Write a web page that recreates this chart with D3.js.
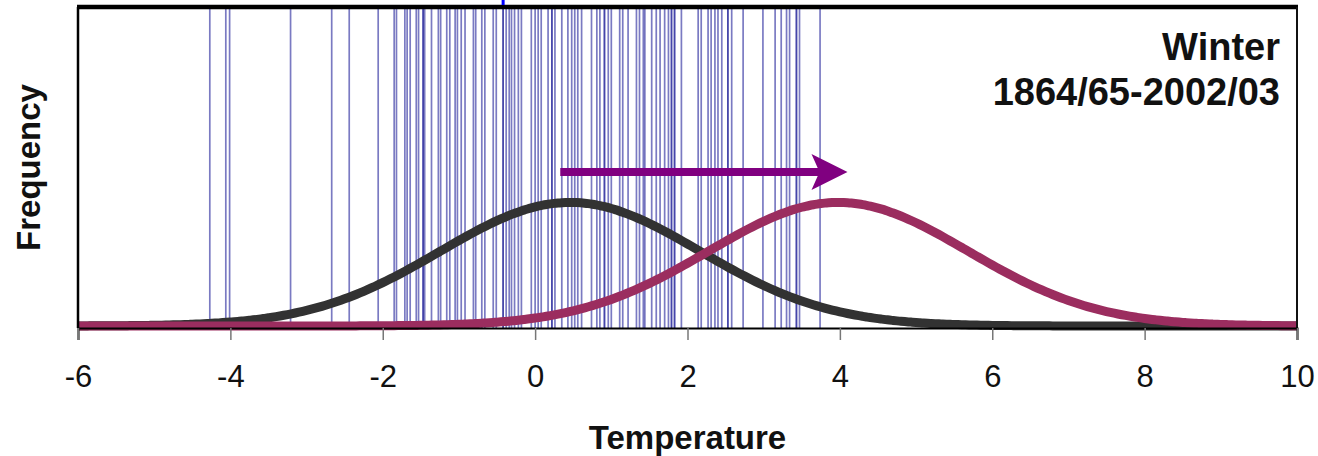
<!DOCTYPE html>
<html>
<head>
<meta charset="utf-8">
<script src="https://cdn.jsdelivr.net/npm/d3@7"></script>
<style>
  html, body { margin: 0; padding: 0; background: #fff; }
  svg { display: block; }
  text { font-family: "Liberation Sans", Arial, sans-serif; fill: #111; }
</style>
</head>
<body>
<svg id="chart" width="1318" height="456"></svg>
<script>
// Winter mean temperatures, one value per winter (°C)
const winterTemps = [
  -4.27, -4.06, -4.01, -3.21, -2.67, -2.44, -2.06, -1.85, -1.82, -1.71,
  -1.68, -1.64, -1.56, -1.53, -1.47, -1.47, -1.45, -1.36, -1.27, -1.24,
  -1.16, -1.12, -1.05, -1.02, -0.97, -0.92, -0.81, -0.78, -0.70, -0.66,
  -0.55, -0.51, -0.42, -0.42, -0.38, -0.34, -0.31, -0.27, -0.22, -0.18,
  -0.05, 0.00, 0.04, 0.08, 0.17, 0.22, 0.22, 0.26, 0.35, 0.43,
  0.48, 0.52, 0.56, 0.61, 0.74, 0.81, 0.85, 0.91, 0.91, 0.96,
  1.00, 1.11, 1.15, 1.22, 1.33, 1.37, 1.42, 1.44, 1.53, 1.59,
  1.64, 1.70, 1.75, 1.79, 1.79, 1.83, 1.83, 1.92, 2.14, 2.18,
  2.27, 2.31, 2.36, 2.40, 2.45, 2.53, 2.53, 2.58, 2.73, 2.99,
  3.15, 3.23, 3.30, 3.34, 3.43, 3.43, 3.47, 3.74
];

// Fitted normal curves: present climate and shifted future climate
const curveNames = ["present", "shifted"];
const curveMeans = [0.46, 3.98];
const curveSds = [1.70, 1.70];

// Shift arrow (from, to) in °C
const arrowFrom = 0.33;
const arrowTo = 4.10;

// Marker above the frame
const topMarker = [-0.42];

const xTicks = [-6, -4, -2, 0, 2, 4, 6, 8, 10];
const titleLines = ["Winter", "1864/65-2002/03"];

const svg = d3.select("#chart");
const margin = { left: 78, right: 21, top: 7, bottom: 128 };
const W = 1318, H = 456;
const baseY = H - margin.bottom; // axis line position

const x = d3.scaleLinear().domain([-6, 10]).range([margin.left, W - margin.right]);
const y = d3.scaleLinear().domain([0, 0.6]).range([baseY - 2, margin.top + 3]);

// Vertical lines for each winter
svg.append("g")
  .selectAll("line")
  .data(winterTemps)
  .join("line")
  .attr("x1", d => x(d)).attr("x2", d => x(d))
  .attr("y1", margin.top).attr("y2", baseY)
  .attr("stroke", "#22229a")
  .attr("stroke-opacity", 0.6)
  .attr("stroke-width", 1.7);

// Normal density curves
const normal = (m, s) => t => Math.exp(-0.5 * ((t - m) / s) ** 2) / (s * Math.sqrt(2 * Math.PI));
const grid = d3.range(-6, 10.0001, 0.05);
const lineGen = d3.line().x(d => x(d[0])).y(d => y(d[1])).curve(d3.curveBasis);
const curveColors = ["#323232", "#9b2d5f"];
curveNames.forEach((name, i) => {
  const f = normal(curveMeans[i], curveSds[i]);
  svg.append("path")
    .attr("class", "curve-" + name)
    .datum(grid.map(t => [t, f(t)]))
    .attr("d", lineGen)
    .attr("fill", "none")
    .attr("stroke", curveColors[i])
    .attr("stroke-width", 9)
    .attr("stroke-linecap", "butt")
    .attr("stroke-linejoin", "round");
});

// Shift arrow
const ay = 172, headLen = 36, headHalf = 18, notch = 8;
const tipX = x(arrowTo);
svg.append("line")
  .attr("x1", x(arrowFrom)).attr("x2", tipX - headLen + notch + 2)
  .attr("y1", ay).attr("y2", ay)
  .attr("stroke", "#800080").attr("stroke-width", 8);
svg.append("path")
  .attr("d", `M${tipX},${ay} L${tipX - headLen},${ay - headHalf} L${tipX - headLen + notch},${ay} L${tipX - headLen},${ay + headHalf} Z`)
  .attr("fill", "#800080");

// Frame
svg.append("line")
  .attr("x1", margin.left - 1).attr("x2", W - margin.right + 1)
  .attr("y1", margin.top).attr("y2", margin.top)
  .attr("stroke", "#000").attr("stroke-width", 4.5);
svg.append("line")
  .attr("x1", margin.left).attr("x2", margin.left)
  .attr("y1", margin.top).attr("y2", baseY)
  .attr("stroke", "#000").attr("stroke-width", 2.5);
svg.append("line")
  .attr("x1", W - margin.right).attr("x2", W - margin.right)
  .attr("y1", margin.top).attr("y2", baseY)
  .attr("stroke", "#111").attr("stroke-width", 2);

// Marker above the frame
svg.append("g").selectAll("line")
  .data(topMarker)
  .join("line")
  .attr("x1", d => x(d)).attr("x2", d => x(d))
  .attr("y1", 0).attr("y2", margin.top - 2)
  .attr("stroke", "#0000ff").attr("stroke-width", 3);

// X axis (plain hyphen for negative labels)
const axis = d3.axisBottom(x).tickValues(xTicks).tickSize(12).tickPadding(25)
  .tickFormat(d => String(d));
const gx = svg.append("g").attr("transform", `translate(0,${baseY})`).call(axis);
gx.select(".domain").attr("stroke", "#000").attr("stroke-width", 2);
gx.selectAll(".tick line").attr("stroke", "#777").attr("stroke-width", 1.5);
gx.selectAll(".tick text")
  .attr("font-family", "'Liberation Sans', Arial, sans-serif")
  .attr("font-size", 31).attr("fill", "#111");

// Axis titles
svg.append("text")
  .attr("x", (x(-6) + x(10)) / 2).attr("y", 449)
  .attr("text-anchor", "middle")
  .attr("font-size", 33).attr("font-weight", "bold")
  .text("Temperature");
svg.append("text")
  .attr("transform", `translate(40,${(margin.top + baseY) / 2}) rotate(-90)`)
  .attr("text-anchor", "middle")
  .attr("font-size", 33).attr("font-weight", "bold")
  .text("Frequency");

// Season label
svg.append("g").selectAll("text")
  .data(titleLines)
  .join("text")
  .attr("x", 1280)
  .attr("y", (d, i) => 60 + i * 45)
  .attr("text-anchor", "end")
  .attr("font-size", 38).attr("font-weight", "bold")
  .text(d => d);
</script>
</body>
</html>
